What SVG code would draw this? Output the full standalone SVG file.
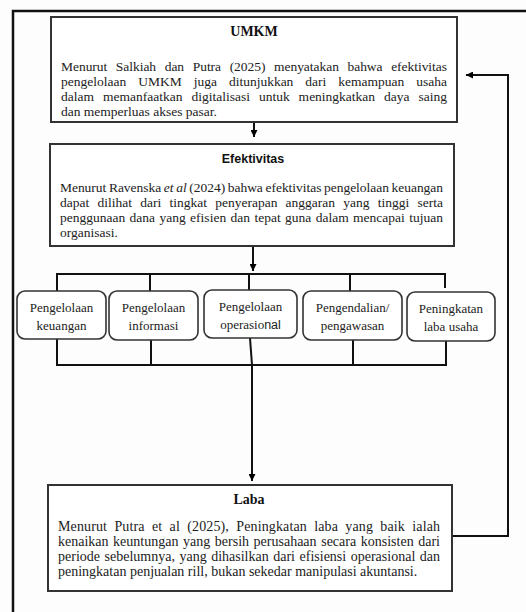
<svg xmlns="http://www.w3.org/2000/svg" width="526" height="612" viewBox="0 0 526 612">
<defs>
<marker id="ah" viewBox="0 0 10 10" refX="10" refY="5" markerWidth="7" markerHeight="7" markerUnits="userSpaceOnUse" orient="auto">
<path d="M0,0 L10,5 L0,10 z" fill="#000"/>
</marker>
<style>
.frame{fill:none;stroke:#111;stroke-width:2.5}
.box{fill:#fff;stroke:#333;stroke-width:2}
.rbox{fill:#fff;stroke:#333;stroke-width:1.6}
.ln{fill:none;stroke:#111;stroke-width:2}
.body{font-size:13.5px;fill:#222}
.body14{font-size:14px;fill:#222}
.ttl{font-size:14px;font-weight:bold;fill:#111}
.ttls{font-size:12.5px;font-weight:bold;fill:#111}
.lbl{font-size:13px;fill:#222;text-anchor:middle}
</style>
</defs>
<rect width="526" height="612" fill="#fdfdfd"/>
<path class="frame" d="M13,612 L13,11 L526,11"/>

<g id="connectors">
<line class="ln" x1="254" y1="122" x2="254" y2="137" marker-end="url(#ah)"/>
<line class="ln" x1="253" y1="246" x2="253" y2="271" marker-end="url(#ah)"/>
<path class="ln" d="M57,291 L57,274 L445,274 L445,288"/>
<line class="ln" x1="150" y1="274" x2="150" y2="291"/>
<line class="ln" x1="249" y1="274" x2="249" y2="290"/>
<line class="ln" x1="350" y1="274" x2="350" y2="291"/>
<path class="ln" d="M57,339 L57,365 L446,365 L446,341"/>
<line class="ln" x1="151" y1="340" x2="151" y2="365"/>
<line class="ln" x1="250" y1="338" x2="252" y2="365"/>
<line class="ln" x1="353" y1="340" x2="353" y2="365"/>
<line class="ln" x1="252" y1="365" x2="252" y2="481" marker-end="url(#ah)"/>
<path class="ln" d="M453,536 L508,536 L508,75 L466,75" marker-end="url(#ah)"/>
</g>

<g id="umkm" font-family="'Liberation Serif', 'Times New Roman', serif">
<rect class="box" x="51" y="17" width="406" height="105"/>
<text class="ttl" x="254" y="36" text-anchor="middle">UMKM</text>
<text class="body" x="61" y="71" word-spacing="5.3" textLength="386" lengthAdjust="spacing">Menurut Salkiah dan Putra (2025) menyatakan bahwa efektivitas</text>
<text class="body" x="61" y="86" word-spacing="8.6" textLength="386" lengthAdjust="spacing">pengelolaan UMKM juga ditunjukkan dari kemampuan usaha</text>
<text class="body" x="61" y="101" word-spacing="5.6" textLength="386" lengthAdjust="spacing">dalam memanfaatkan digitalisasi untuk meningkatkan daya saing</text>
<text class="body" x="61" y="116">dan memperluas akses pasar.</text>
</g>

<g id="efektivitas" font-family="'Liberation Serif', 'Times New Roman', serif">
<rect class="box" x="50" y="144" width="404" height="102"/>
<text class="ttls" x="253" y="163" text-anchor="middle" font-family="'Liberation Sans', Arial, sans-serif">Efektivitas</text>
<text class="body" x="60" y="192" word-spacing="-0.6" textLength="383" lengthAdjust="spacing">Menurut Ravenska <tspan font-style="italic">et al</tspan> (2024) bahwa efektivitas pengelolaan keuangan</text>
<text class="body" x="60" y="207" word-spacing="4.8" textLength="383" lengthAdjust="spacing">dapat dilihat dari tingkat penyerapan anggaran yang tinggi serta</text>
<text class="body" x="60" y="222" word-spacing="1" textLength="383" lengthAdjust="spacing">penggunaan dana yang efisien dan tepat guna dalam mencapai tujuan</text>
<text class="body" x="60" y="237">organisasi.</text>
</g>

<g id="n1" font-family="'Liberation Serif', 'Times New Roman', serif">
<rect class="rbox" x="17" y="291" width="89" height="48" rx="8"/>
<text class="lbl" x="61.5" y="312">Pengelolaan</text>
<text class="lbl" x="61.5" y="330">keuangan</text>
</g>
<g id="n2" font-family="'Liberation Serif', 'Times New Roman', serif">
<rect class="rbox" x="109" y="291" width="89" height="49" rx="8"/>
<text class="lbl" x="153.5" y="312">Pengelolaan</text>
<text class="lbl" x="153.5" y="330">informasi</text>
</g>
<g id="n3" font-family="'Liberation Serif', 'Times New Roman', serif">
<rect class="rbox" x="204" y="290" width="93" height="48" rx="8"/>
<text class="lbl" x="250.5" y="311">Pengelolaan</text>
<text class="lbl" x="250.5" y="329">operasio<tspan font-family="'Liberation Sans', Arial, sans-serif" font-size="12.5">nal</tspan></text>
</g>
<g id="n4" font-family="'Liberation Serif', 'Times New Roman', serif">
<rect class="rbox" x="303" y="291" width="99" height="49" rx="8"/>
<text class="lbl" x="352.5" y="312">Pengendalian/</text>
<text class="lbl" x="352.5" y="330">pengawasan</text>
</g>
<g id="n5" font-family="'Liberation Serif', 'Times New Roman', serif">
<rect class="rbox" x="407" y="292" width="88" height="49" rx="8"/>
<text class="lbl" x="451" y="313">Peningkatan</text>
<text class="lbl" x="451" y="331">laba usaha</text>
</g>

<g id="laba" font-family="'Liberation Serif', 'Times New Roman', serif">
<rect class="box" x="48" y="485" width="404" height="106"/>
<text class="ttl" x="249" y="504" text-anchor="middle">Laba</text>
<text class="body14" x="58" y="531" word-spacing="3.7" textLength="382" lengthAdjust="spacing">Menurut Putra et al (2025), Peningkatan laba yang baik  ialah</text>
<text class="body14" x="58" y="546" word-spacing="1.1" textLength="382" lengthAdjust="spacing">kenaikan keuntungan yang bersih perusahaan secara konsisten dari</text>
<text class="body14" x="58" y="561" word-spacing="1" textLength="382" lengthAdjust="spacing">periode sebelumnya, yang dihasilkan dari efisiensi operasional dan</text>
<text class="body14" x="58" y="576">peningkatan penjualan rill, bukan sekedar manipulasi akuntansi.</text>
</g>
</svg>
